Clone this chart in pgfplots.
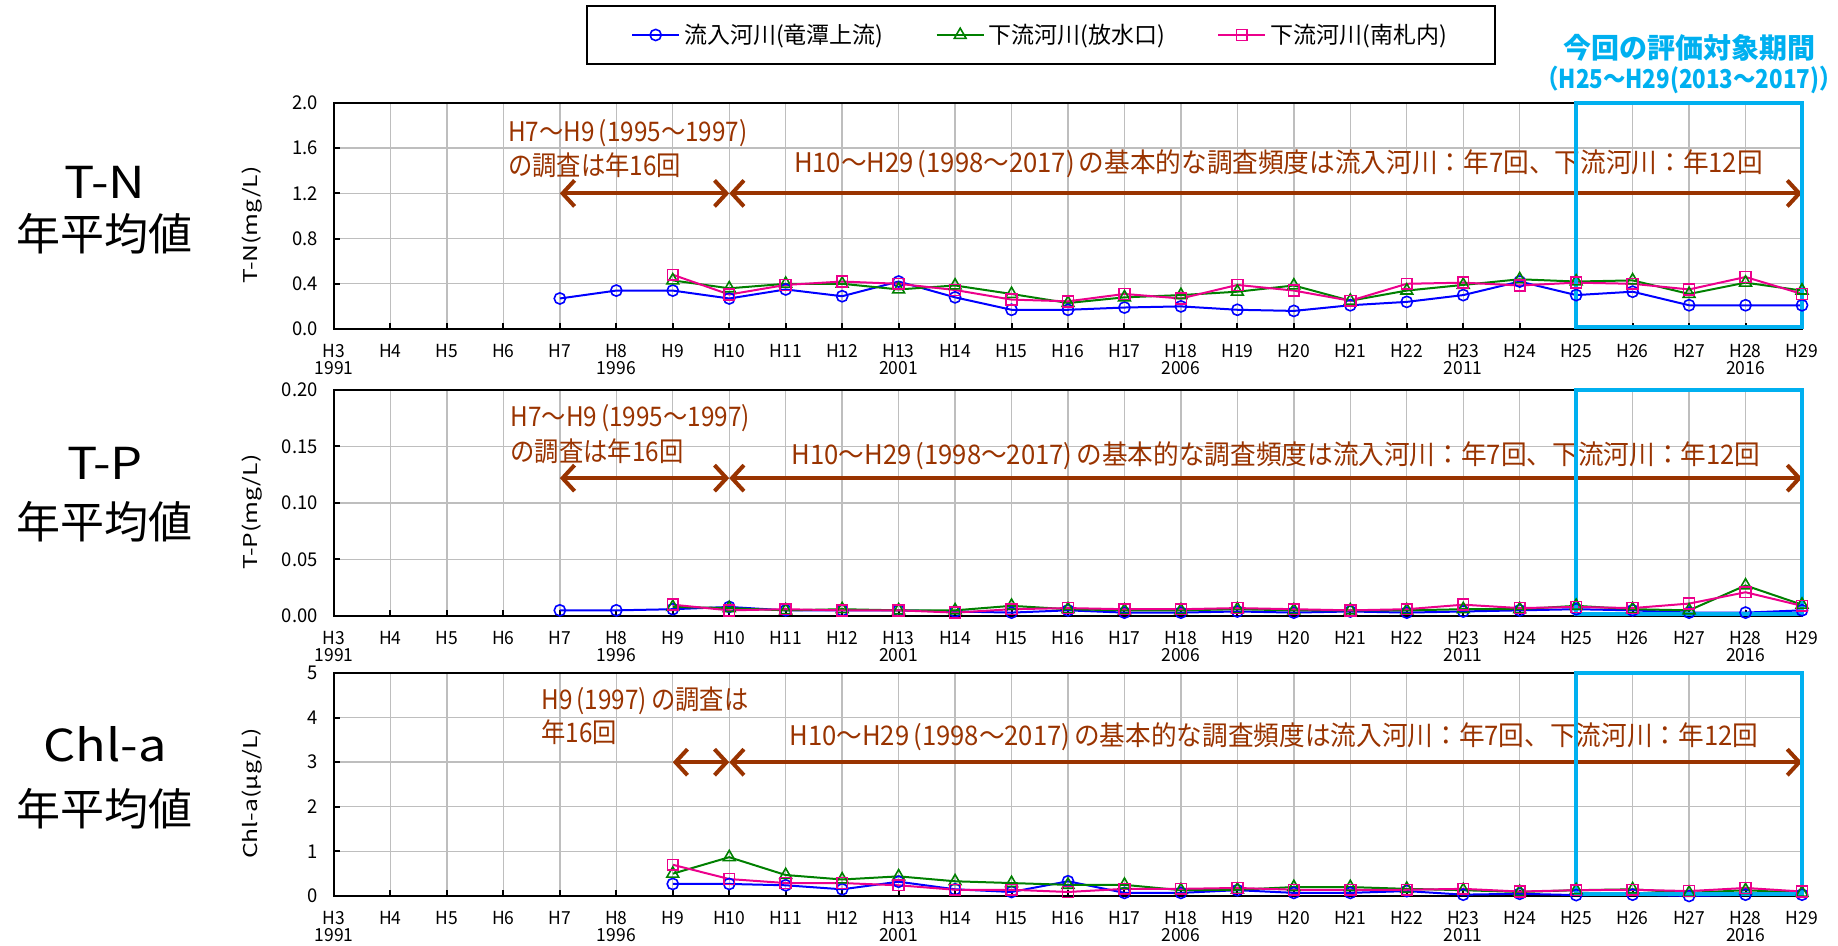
\documentclass[border=0pt]{standalone}
\usepackage{fontspec}
\usepackage{pgfplots}
\pgfplotsset{compat=1.18}
\usetikzlibrary{arrows.meta}
\setmainfont{Noto Sans CJK JP}
\newfontfamily\ann[FakeStretch=0.9]{Noto Sans CJK JP}
\newfontfamily\annL[FakeStretch=0.95]{Noto Sans CJK JP}
\newfontfamily\tck[FakeStretch=0.97]{Noto Sans CJK JP}
\newfontfamily\ylf[FakeStretch=1.3]{Noto Sans CJK JP}
\newfontfamily\biglab[FakeStretch=1.15]{Noto Sans CJK JP}
\newfontfamily\cyf[FakeStretch=0.86]{Noto Sans CJK JP}
\definecolor{brn}{RGB}{153,51,0}
\definecolor{cyn}{RGB}{0,176,240}
\definecolor{grn}{RGB}{0,128,0}
\definecolor{gridc}{RGB}{190,190,190}

\tikzset{
  annf/.style={font=\ann\fontsize{13.5pt}{14pt}\selectfont, text=brn, inner sep=0pt, anchor=west},
  annl/.style={font=\annL\fontsize{13.5pt}{14pt}\selectfont, text=brn, inner sep=0pt, anchor=west},
  arr/.style={brn, line width=2pt, {Straight Barb[length=6pt,width=13pt]}-{Straight Barb[length=6pt,width=13pt]}},
}
\newcommand{\longtext}{H10～H29\hspace{2pt}(1998～2017)\hspace{2pt}の基本的な調査頻度は流入河川：年7回、下流河川：年12回}
\pgfplotsset{
  base/.style={
    scale only axis, width=734pt, height=113pt,
    xmin=3, xmax=29, clip=false,
    xtick={3,...,29},
    xticklabels={H3,H4,H5,H6,H7,H8,H9,H10,H11,H12,H13,H14,H15,H16,H17,H18,H19,H20,H21,H22,H23,H24,H25,H26,H27,H28,H29},
    xticklabel style={font=\tck\fontsize{9pt}{10pt}\selectfont, inner sep=0pt, anchor=north, yshift=-7.5pt},
    extra x ticks={3,8,13,18,23,28},
    extra x tick labels={1991,1996,2001,2006,2011,2016},
    extra x tick style={grid=none, major tick length=0pt, xticklabel style={yshift=-8.5pt}},
    yticklabel style={font=\tck\fontsize{9.5pt}{10pt}\selectfont, inner sep=0pt, xshift=-8pt},
    grid=major, major grid style={gridc, line width=0.7pt},
    axis line style={line width=1.3pt},
    tick style={black, line width=1pt}, major tick length=3pt, tick align=inside,
    xtick pos=left, ytick pos=left,
    ylabel style={font=\ylf\fontsize{9.5pt}{10pt}\selectfont, at={(axis description cs:-0.056,0.46)}, anchor=center},
  },
  bl/.style={blue, line width=1pt, mark=o, mark size=2.8pt, mark options={solid, line width=0.8pt}},
  gr/.style={grn, line width=1pt, mark=triangle, mark size=3.4pt, mark options={solid, line width=0.8pt}},
  mg/.style={magenta, line width=1pt, mark=square, mark size=2.7pt, mark options={solid, line width=0.8pt}},
}

\begin{document}
\begin{tikzpicture}
\path[use as bounding box] (0,0) rectangle (919pt,-473pt);

% ---------- T-N ----------
\begin{axis}[base, at={(167pt,-51.5pt)}, anchor=north west,
  ymin=0, ymax=2, ytick={0,0.4,0.8,1.2,1.6,2}, yticklabels={0.0,0.4,0.8,1.2,1.6,2.0},
  ylabel={T-N(mg/L)},
  legend columns=3,
  legend style={at={(0.4816,1.301)}, anchor=center, draw=black, line width=1pt,
    font=\fontsize{11.5pt}{12pt}\selectfont, inner xsep=22pt, inner ysep=7pt,
    /tikz/every even column/.append style={column sep=24pt}},
  legend image code/.code={\draw[mark repeat=2,mark phase=2] plot coordinates {(0pt,0pt) (11.75pt,0pt) (23.5pt,0pt)};},
]
\addplot[bl] coordinates {(7,0.27)(8,0.34)(9,0.34)(10,0.27)(11,0.35)(12,0.29)(13,0.42)(14,0.28)(15,0.17)(16,0.17)(17,0.19)(18,0.20)(19,0.17)(20,0.16)(21,0.21)(22,0.24)(23,0.30)(24,0.42)(25,0.30)(26,0.33)(27,0.21)(28,0.21)(29,0.21)};
\addlegendentry{流入河川(竜潭上流)}
\addplot[gr] coordinates {(9,0.43)(10,0.36)(11,0.40)(12,0.40)(13,0.35)(14,0.385)(15,0.31)(16,0.23)(17,0.28)(18,0.30)(19,0.33)(20,0.385)(21,0.25)(22,0.34)(23,0.39)(24,0.44)(25,0.42)(26,0.43)(27,0.31)(28,0.41)(29,0.34)};
\addlegendentry{下流河川(放水口)}
\addplot[mg] coordinates {(9,0.48)(10,0.305)(11,0.39)(12,0.42)(13,0.40)(14,0.345)(15,0.26)(16,0.245)(17,0.31)(18,0.27)(19,0.39)(20,0.34)(21,0.25)(22,0.40)(23,0.41)(24,0.385)(25,0.41)(26,0.40)(27,0.35)(28,0.46)(29,0.31)};
\addlegendentry{下流河川(南札内)}
\node[annf] at (axis cs:6.08,1.73) {H7～H9\hspace{2pt}(1995～1997)};
\node[annf] at (axis cs:6.08,1.45) {の調査は年16回};
\node[annl] at (axis cs:11.14,1.46) {\longtext};
\draw[arr] (axis cs:7,1.2) -- (axis cs:10,1.2);
\draw[arr] (axis cs:10,1.2) -- (axis cs:29,1.2);
\draw[cyn, line width=2pt] (axis cs:25,0.02) rectangle (axis cs:29,2);
\end{axis}

% ---------- T-P ----------
\begin{axis}[base, at={(167pt,-195pt)}, anchor=north west,
  ymin=0, ymax=0.2, ytick={0,0.05,0.1,0.15,0.2}, yticklabels={0.00,0.05,0.10,0.15,0.20},
  ylabel={T-P(mg/L)},
]
\addplot[bl] coordinates {(7,0.005)(8,0.005)(9,0.006)(10,0.008)(11,0.005)(12,0.005)(13,0.005)(14,0.004)(15,0.003)(16,0.005)(17,0.003)(18,0.003)(19,0.004)(20,0.003)(21,0.004)(22,0.003)(23,0.004)(24,0.005)(25,0.006)(26,0.005)(27,0.003)(28,0.003)(29,0.005)};
\addplot[gr] coordinates {(9,0.008)(10,0.007)(11,0.005)(12,0.006)(13,0.005)(14,0.005)(15,0.009)(16,0.006)(17,0.005)(18,0.005)(19,0.006)(20,0.005)(21,0.005)(22,0.005)(23,0.006)(24,0.006)(25,0.009)(26,0.006)(27,0.005)(28,0.027)(29,0.010)};
\addplot[mg] coordinates {(9,0.010)(10,0.005)(11,0.006)(12,0.005)(13,0.005)(14,0.003)(15,0.006)(16,0.007)(17,0.006)(18,0.006)(19,0.007)(20,0.006)(21,0.005)(22,0.006)(23,0.010)(24,0.007)(25,0.008)(26,0.007)(27,0.011)(28,0.021)(29,0.009)};
\node[annf] at (axis cs:6.12,0.175) {H7～H9\hspace{2pt}(1995～1997)};
\node[annf] at (axis cs:6.12,0.146) {の調査は年16回};
\node[annl] at (axis cs:11.1,0.142) {\longtext};
\draw[arr] (axis cs:7,0.122) -- (axis cs:10,0.122);
\draw[arr] (axis cs:10,0.122) -- (axis cs:29,0.122);
\draw[cyn, line width=2pt] (axis cs:25,0.002) rectangle (axis cs:29,0.2);
\end{axis}

% ---------- Chl-a ----------
\begin{axis}[base, at={(167pt,-336.5pt)}, anchor=north west, height=111.5pt,
  ymin=0, ymax=5, ytick={0,1,2,3,4,5}, yticklabels={0,1,2,3,4,5},
  ylabel={Chl-a(μg/L)},
]
\addplot[bl] coordinates {(9,0.27)(10,0.27)(11,0.24)(12,0.15)(13,0.32)(14,0.15)(15,0.09)(16,0.33)(17,0.07)(18,0.07)(19,0.13)(20,0.07)(21,0.07)(22,0.11)(23,0.03)(24,0.05)(25,0.02)(26,0.03)(27,0.0)(28,0.03)(29,0.03)};
\addplot[gr] coordinates {(9,0.5)(10,0.87)(11,0.47)(12,0.37)(13,0.44)(14,0.33)(15,0.29)(16,0.25)(17,0.25)(18,0.13)(19,0.14)(20,0.2)(21,0.2)(22,0.16)(23,0.13)(24,0.09)(25,0.13)(26,0.15)(27,0.07)(28,0.13)(29,0.07)};
\addplot[mg] coordinates {(9,0.7)(10,0.38)(11,0.29)(12,0.29)(13,0.24)(14,0.14)(15,0.14)(16,0.09)(17,0.16)(18,0.16)(19,0.18)(20,0.14)(21,0.14)(22,0.14)(23,0.16)(24,0.1)(25,0.13)(26,0.14)(27,0.11)(28,0.18)(29,0.1)};
\node[annf] at (axis cs:6.67,4.37) {H9\hspace{2pt}(1997)\hspace{2pt}の調査は};
\node[annf] at (axis cs:6.67,3.67) {年16回};
\node[annl] at (axis cs:11.06,3.58) {\longtext};
\draw[arr] (axis cs:9,3) -- (axis cs:10,3);
\draw[arr] (axis cs:10,3) -- (axis cs:29,3);
\draw[cyn, line width=2pt] (axis cs:25,0.05) rectangle (axis cs:29,5);
\end{axis}

% ---------- outside labels ----------
\begin{scope}[every node/.style={font=\fontsize{22pt}{24pt}\selectfont, inner sep=0pt, anchor=center}]
\node[font=\biglab\fontsize{22pt}{24pt}\selectfont] at (52.5pt,-91pt) {T-N};
\node at (52.5pt,-117pt) {年平均値};
\node[font=\biglab\fontsize{22pt}{24pt}\selectfont] at (52.5pt,-231.5pt) {T-P};
\node at (52.5pt,-261pt) {年平均値};
\node[font=\biglab\fontsize{22pt}{24pt}\selectfont] at (52.5pt,-372pt) {Chl-a};
\node at (52.5pt,-404.5pt) {年平均値};
\end{scope}
\node[font=\bfseries\fontsize{14pt}{15pt}\selectfont, text=cyn, inner sep=0pt] at (844.5pt,-24pt) {今回の評価対象期間};
\node[font=\cyf\bfseries\fontsize{13pt}{14pt}\selectfont, text=cyn, inner sep=0pt] at (844.5pt,-40pt) {（H25～H29(2013～2017)）};
\end{tikzpicture}
\end{document}
